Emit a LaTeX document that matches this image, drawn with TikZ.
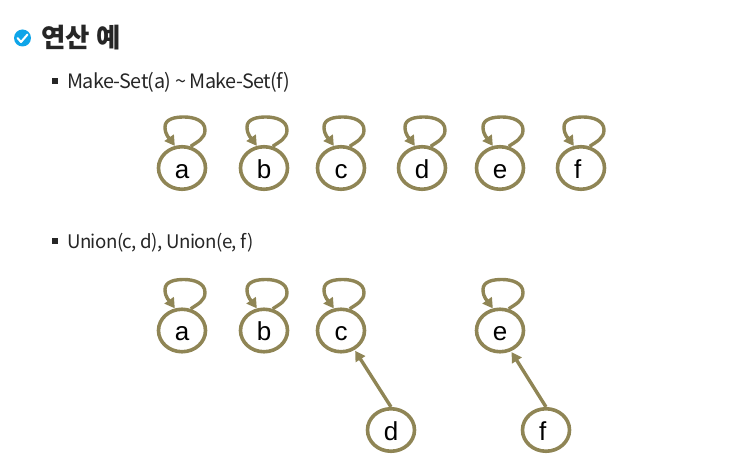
\documentclass[tikz,border=0pt]{standalone}
\usepackage{fontspec}
\setmainfont{Liberation Sans}
\newfontfamily\krfont[LetterSpace=-3]{Noto Sans CJK KR}
\newfontfamily\titlefont{Noto Sans CJK KR}
\usetikzlibrary{arrows.meta,shapes.geometric}
\definecolor{edgeolive}{RGB}{143,133,85}
\definecolor{checkblue}{RGB}{14,165,233}
\definecolor{textgray}{RGB}{38,38,38}
\tikzset{
  vertex/.style={draw=edgeolive,line width=3.6pt,ellipse,minimum width=47pt,minimum height=42.5pt,inner sep=0pt,text height=21pt,text depth=0pt,font=\fontsize{26}{26}\selectfont,text=black},
  edge/.style={draw=edgeolive,line width=3.4pt,-{Triangle[length=10pt,width=11pt]}},
  heading/.style={font=\titlefont\bfseries\fontsize{26.5}{26.5}\selectfont,text=textgray,anchor=west,inner sep=0pt},
  item/.style={text=textgray,anchor=west,inner sep=0pt},
  marksq/.style={fill=textgray,minimum size=6pt,inner sep=0pt}
}
\newcommand{\selfedgeat}[1]{%
  \draw[edge] (#1.68) to[out=35,in=-90] ([shift={(23,38)}]#1.center)
    to[out=90,in=0] ([shift={(2,51)}]#1.center)
    to[out=180,in=90] ([shift={(-17,41)}]#1.center)
    to[out=-90,in=125] (#1.108);}
\begin{document}
\begin{tikzpicture}[x=1pt,y=1pt]
  \useasboundingbox (0,0) rectangle (741,463);
  % header
  \node[circle,fill=checkblue,minimum size=17pt,inner sep=0pt] (check) at (22.5,425) {};
  \draw[white,line width=2pt,line cap=round,line join=round] (17.5,425) -- (21,421) -- (27.5,428.5);
  \node[heading] (title) at (41,425) {연산 예};
  \node[marksq] (mark1) at (54.5,382) {};
  \node[item,font=\krfont\fontsize{19.8}{20}\selectfont] (text1) at (67,380.5) {Make-Set(a) \textasciitilde{} Make-Set(f)};
  \node[marksq] (mark2) at (54.5,222) {};
  \node[item,font=\krfont\fontsize{18.7}{20}\selectfont] (text2) at (67,220.5) {Union(c, d), Union(e, f)};
  % first row
  \draw
    (182,295) node[vertex] (a1){a}
    (264,295) node[vertex] (b1){b}
    (341,295) node[vertex] (c1){c}
    (422,295) node[vertex] (d1){d}
    (500,295) node[vertex] (e1){e}
    (581,295) node[vertex] (f1){\makebox[14pt][l]{f}};
  % second row
  \draw
    (182,132.5) node[vertex] (a2){a}
    (264,132.5) node[vertex] (b2){b}
    (341,132.5) node[vertex] (c2){c}
    (500,132.5) node[vertex] (e2){e}
    (391,33) node[vertex] (d2){d}
    (546,33) node[vertex] (f2){\makebox[14pt][l]{f}};
  \begin{scope}
    \selfedgeat{a1}
    \selfedgeat{b1}
    \selfedgeat{c1}
    \selfedgeat{d1}
    \selfedgeat{e1}
    \selfedgeat{f1}
    \selfedgeat{a2}
    \selfedgeat{b2}
    \selfedgeat{c2}
    \selfedgeat{e2}
    \draw[edge,shorten >=1pt] (d2.north) to (c2.-55);
    \draw[edge,shorten >=1pt] (f2.north) to (e2.-62);
  \end{scope}
\end{tikzpicture}
\end{document}
